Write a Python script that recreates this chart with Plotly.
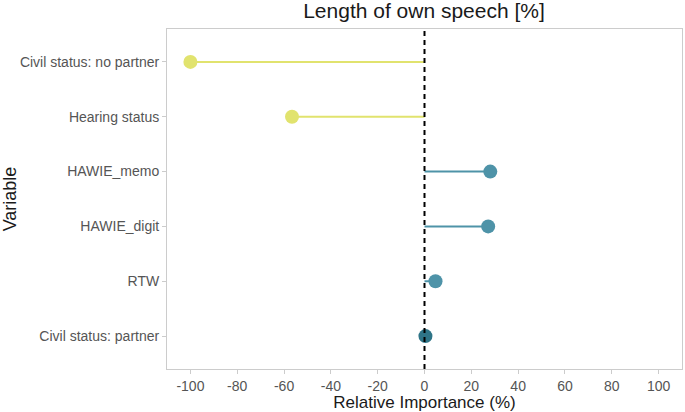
import plotly.graph_objects as go

variables = ["Civil status: partner", "RTW", "HAWIE_digit", "HAWIE_memo", "Hearing status", "Civil status: no partner"]
importance = [0.4, 4.7, 27.2, 28.1, -56.6, -100.0]
colors = ["#2E7487", "#4E93A8", "#4E93A8", "#4E93A8", "#E1E36E", "#E1E36E"]
x_ticks = [-100, -80, -60, -40, -20, 0, 20, 40, 60, 80, 100]

fig = go.Figure()
for v, val, c in zip(variables, importance, colors):
    fig.add_trace(go.Scatter(x=[0, val], y=[v, v], mode="lines",
                             line=dict(color=c, width=2), showlegend=False, hoverinfo="skip"))
fig.add_trace(go.Scatter(x=importance, y=variables, mode="markers",
                         marker=dict(color=colors, size=14), showlegend=False))

fig.add_shape(type="line", x0=0, x1=0, y0=0, y1=1, yref="paper", xref="x",
              line=dict(color="black", width=2, dash="5px,4px"))

font_family = "Liberation Sans, Arial, sans-serif"
fig.update_layout(
    width=685, height=412,
    margin=dict(l=167, r=3, t=29, b=43),
    paper_bgcolor="white", plot_bgcolor="white",
    font=dict(family=font_family, color="#4d4d4d"),
    title=dict(text="Length of own speech [%]", x=0.619, xanchor="center", y=0.973, yanchor="middle",
               font=dict(size=21, color="#1a1a1a")),
)
fig.update_xaxes(range=[-110, 110], tickvals=x_ticks, ticktext=[str(t) for t in x_ticks],
                 showgrid=False, zeroline=False, showline=True, mirror=True, linecolor="#cccccc", linewidth=1,
                 ticks="outside", ticklen=4, tickcolor="#cccccc", tickfont=dict(size=14, color="#555555"),
                 title=dict(text="Relative Importance (%)", font=dict(size=17, color="#1a1a1a"), standoff=2))
fig.update_yaxes(categoryorder="array", categoryarray=variables, range=[-0.6, 5.6],
                 showgrid=False, zeroline=False, showline=True, mirror=True, linecolor="#cccccc", linewidth=1,
                 ticks="outside", ticklen=4, tickcolor="#cccccc", tickfont=dict(size=14, color="#555555"),
                 title=dict(text="Variable", font=dict(size=18, color="#1a1a1a"), standoff=4))

fig.write_html("out.html")
